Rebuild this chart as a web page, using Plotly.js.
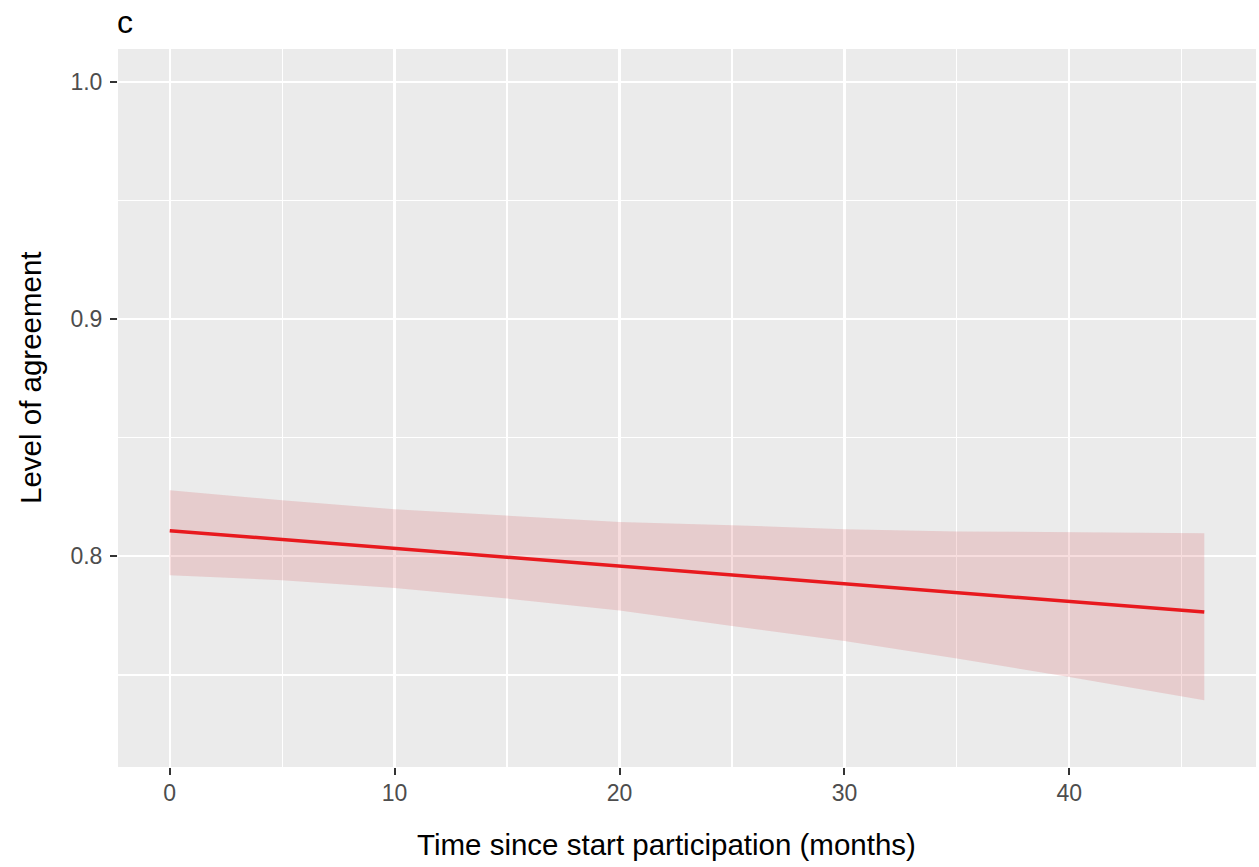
<!DOCTYPE html>
<html>
<head>
<meta charset="utf-8">
<script src="https://cdn.plot.ly/plotly-3.0.1.min.js"></script>
<style>html,body{margin:0;padding:0;background:#fff;}#chart{width:1259px;height:867px;}</style>
</head>
<body>
<div id="chart"></div>
<script>
// Data
const months = [0, 5, 10, 15, 20, 25, 30, 35, 40, 46];
const fitLine = [0.8108, 0.8071, 0.8034, 0.7997, 0.7960, 0.7923, 0.7886, 0.7849, 0.7812, 0.7765];
const upperCI = [0.8278, 0.8236, 0.8198, 0.8170, 0.8145, 0.8131, 0.8114, 0.8105, 0.8100, 0.8097];
const lowerCI = [0.7920, 0.7899, 0.7866, 0.7822, 0.7772, 0.7706, 0.7643, 0.7569, 0.7491, 0.7393];
const yTickVals = [0.8, 0.9, 1.0];
const yTickText = ["0.8", "0.9", "1.0"];
const xTickVals = [0, 10, 20, 30, 40];
const xTickText = ["0", "10", "20", "30", "40"];

const FONT = "'Liberation Sans', Arial, Helvetica, sans-serif";

const traces = [
  {
    x: months.concat(months.slice().reverse()),
    y: upperCI.concat(lowerCI.slice().reverse()),
    type: 'scatter', mode: 'lines',
    fill: 'toself',
    fillcolor: 'rgba(205, 45, 50, 0.16)',
    line: {width: 0, color: 'rgba(0,0,0,0)'},
    hoverinfo: 'skip', showlegend: false
  },
  {
    x: months, y: fitLine,
    type: 'scatter', mode: 'lines',
    line: {color: '#E8191E', width: 3.5},
    showlegend: false
  }
];

const layout = {
  width: 1259, height: 867,
  margin: {l: 118, r: 3, t: 49, b: 100},
  paper_bgcolor: '#FFFFFF',
  plot_bgcolor: '#EBEBEB',
  font: {family: FONT, color: '#000'},
  showlegend: false,
  xaxis: {
    range: [-2.3, 48.3],
    tickvals: xTickVals, ticktext: xTickText,
    showgrid: true, gridcolor: '#FFFFFF', gridwidth: 2.3,
    zeroline: false, showline: false,
    ticks: 'outside', ticklen: 7, tickwidth: 2, tickcolor: '#333333',
    tickfont: {family: FONT, size: 23, color: '#4D4D4D'},
    ticklabelstandoff: -2,
    minor: {dtick: 5, tick0: 0, showgrid: true, gridcolor: '#FFFFFF', gridwidth: 1.2, ticks: ''}
  },
  yaxis: {
    range: [0.7112, 1.0138],
    tickvals: yTickVals, ticktext: yTickText,
    showgrid: true, gridcolor: '#FFFFFF', gridwidth: 2.3,
    zeroline: false, showline: false,
    ticks: 'outside', ticklen: 7, tickwidth: 2, tickcolor: '#333333',
    tickfont: {family: FONT, size: 23, color: '#4D4D4D'},
    ticklabelstandoff: 3,
    minor: {dtick: 0.1, tick0: 0.75, showgrid: true, gridcolor: '#FFFFFF', gridwidth: 1.2, ticks: ''}
  },
  annotations: [
    {text: 'c', xref: 'paper', yref: 'paper', x: 0, y: 1, xshift: -3, yshift: 47,
     xanchor: 'left', yanchor: 'top', showarrow: false,
     font: {family: FONT, size: 32, color: '#000'}},
    {text: 'Time since start participation (months)', xref: 'paper', yref: 'paper',
     x: (666 - 118) / 1138, y: 0, yshift: -77, xanchor: 'center', yanchor: 'middle',
     showarrow: false, font: {family: FONT, size: 29.5, color: '#000'}},
    {text: 'Level of agreement', xref: 'paper', yref: 'paper',
     x: 0, xshift: -88, y: (767 - 378) / 718, xanchor: 'center', yanchor: 'middle',
     textangle: -90, showarrow: false, font: {family: FONT, size: 29.5, color: '#000'}}
  ]
};

Plotly.newPlot('chart', traces, layout, {displayModeBar: false, staticPlot: true});
</script>
</body>
</html>
